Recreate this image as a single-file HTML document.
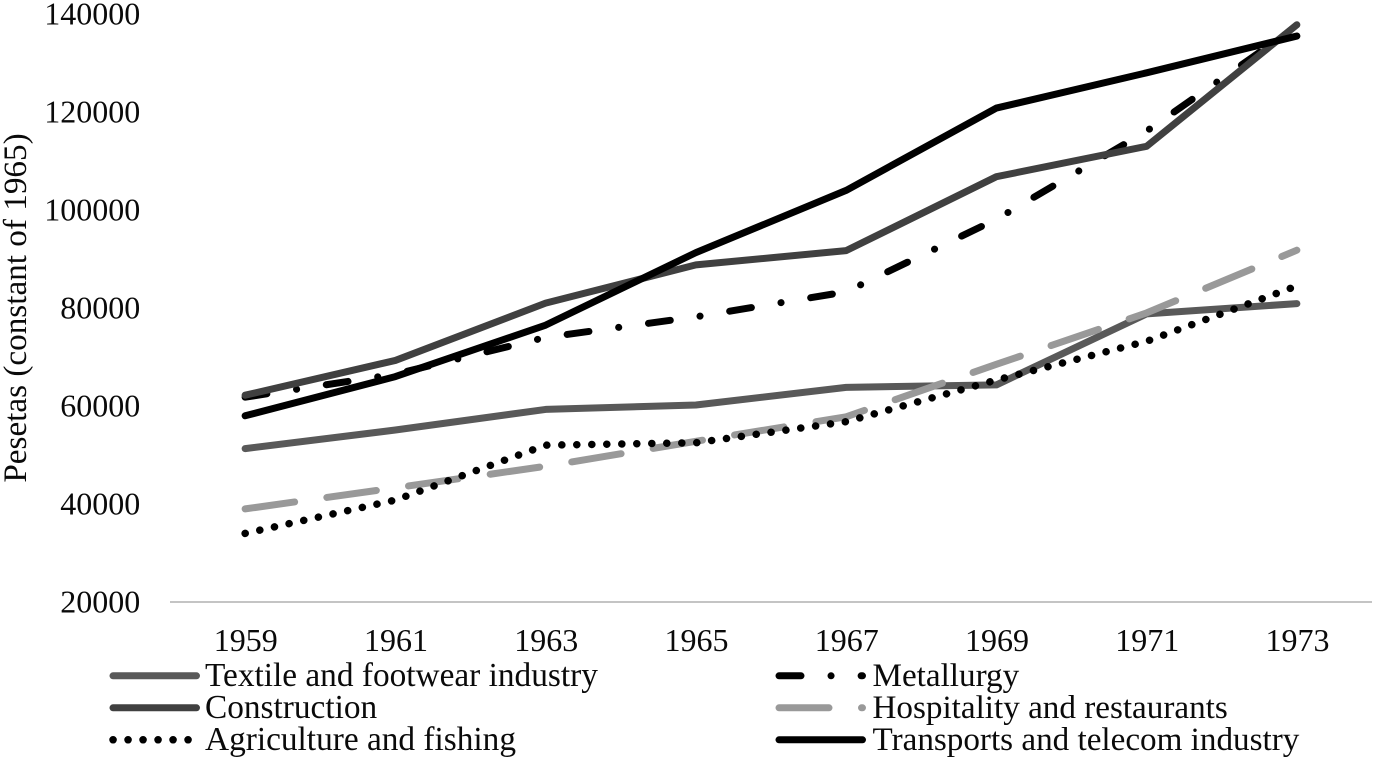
<!DOCTYPE html>
<html>
<head>
<meta charset="utf-8">
<style>
html,body{margin:0;padding:0;background:#fff;width:1375px;height:760px;overflow:hidden}
svg{display:block}
text{font-family:"Liberation Serif",serif;fill:#0a0a0a;font-size:32px}
text.title{font-size:33.2px}
text.legend-left{font-size:33.35px}
text.legend-right{font-size:33.15px}
</style>
</head>
<body>
<svg id="chart" width="1375" height="760" viewBox="0 0 1375 760" xmlns="http://www.w3.org/2000/svg"></svg>
<script>
const categories = ["1959","1961","1963","1965","1967","1969","1971","1973"];
const yTicks = [20000,40000,60000,80000,100000,120000,140000];
const textile = [51300,55100,59300,60200,63800,64300,78800,80900];
const metallurgy = [61800,66500,74000,78200,83300,98100,116100,137500];
const construction = [62200,69300,81000,88800,91700,106800,113000,137800];
const hospitality = [39000,43300,47700,52800,57800,68500,79000,91800];
const agriculture = [34000,40800,52000,52500,56800,65300,73200,84500];
const transport = [58000,66000,76500,91300,104000,120800,128000,135500];

const seriesNames = ["Textile and footwear industry","Metallurgy","Construction","Hospitality and restaurants","Agriculture and fishing","Transports and telecom industry"];
const seriesValues = [textile,metallurgy,construction,hospitality,agriculture,transport];
const seriesKeys = ["textile","metallurgy","construction","hospitality","agriculture","transport"];
const seriesStyles = [
  {stroke:"#595959",width:7,dash:""},
  {stroke:"#000000",width:7,dash:"22 30 0.1 30"},
  {stroke:"#404040",width:7,dash:""},
  {stroke:"#999999",width:7,dash:"50 32.5"},
  {stroke:"#000000",width:7.5,dash:"0.1 14.9"},
  {stroke:"#000000",width:7,dash:""}
];
const drawOrder = [0,1,2,3,4,5];

const svg = document.getElementById("chart");
const NS = "http://www.w3.org/2000/svg";
const plotL = 170, plotR = 1372, plotBottom = 602, plotTop = 14;
const yMin = 20000, yMax = 140000;
function xScale(i){ return plotL + (plotR-plotL)*(i+0.5)/categories.length; }
function yScale(v){ return plotBottom - (v-yMin)/(yMax-yMin)*(plotBottom-plotTop); }
function mk(tag,attrs,parent){
  const el = document.createElementNS(NS,tag);
  for(const k in attrs) el.setAttribute(k,attrs[k]);
  (parent||svg).appendChild(el);
  return el;
}

const axis = mk("line",{x1:plotL,x2:plotR,y1:plotBottom,y2:plotBottom,stroke:"#c4c4c4","stroke-width":2});



yTicks.forEach(function(t){
  const el = mk("text",{x:140.3,y:yScale(t)+10.4,"text-anchor":"end"});
  el.textContent = t;
  
  
});
categories.forEach(function(c,i){
  const el = mk("text",{x:xScale(i)+0.6,y:651,"text-anchor":"middle"});
  el.textContent = c;
  
  
});

const yTitle = mk("text",{transform:"translate(26,308) rotate(-90)","text-anchor":"middle","class":"title"});
yTitle.textContent = "Pesetas (constant of 1965)";



drawOrder.forEach(function(s){
  const st = seriesStyles[s];
  const pts = seriesValues[s].map(function(v,i){ return xScale(i)+","+yScale(v); }).join(" ");
  const line = mk("polyline",{points:pts,fill:"none",stroke:st.stroke,"stroke-width":st.width,"stroke-dasharray":st.dash,"stroke-linecap":"round","stroke-linejoin":"round"});
  
  
});

const legendCols = [113,779];
const legendLabelX = [205,872.5];
const legendClasses = ["legend-left","legend-right"];
const legendRows = [675.8,707.8,739.8];
seriesNames.forEach(function(name,s){
  const col = s%2, row = Math.floor(s/2);
  const st = seriesStyles[s];
  const x0 = legendCols[col], y0 = legendRows[row];
  const swatch = mk("line",{x1:x0,x2:x0+83.5,y1:y0,y2:y0,stroke:st.stroke,"stroke-width":st.width,"stroke-dasharray":st.dash,"stroke-linecap":"round"});
  
  
  const label = mk("text",{x:legendLabelX[col],y:y0+10.2,"class":legendClasses[col]});
  label.textContent = name;
  
  
});
</script>
</body>
</html>
